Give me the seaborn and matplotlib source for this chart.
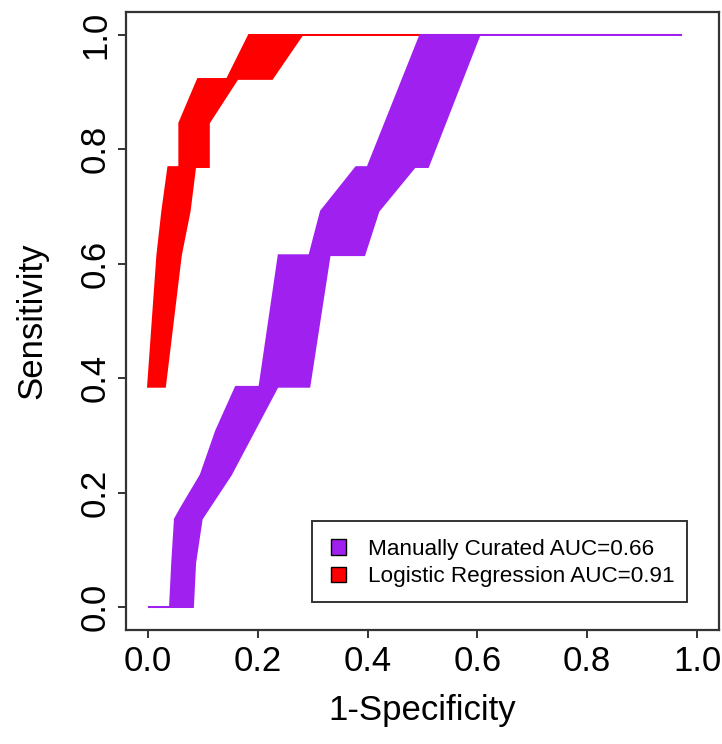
import matplotlib
matplotlib.use("Agg")
import matplotlib.pyplot as plt
from matplotlib.patches import Patch, Rectangle
import seaborn as sns
import pandas as pd

# ---- data: confidence bands of the ROC curves (1-specificity, sensitivity) ----
# Logistic Regression band: left (upper) boundary, bottom -> top
lr_left_fpr = [0.000, 0.017, 0.026, 0.037, 0.057, 0.057, 0.091, 0.144, 0.184]
lr_left_se = [0.385, 0.615, 0.692, 0.769, 0.769, 0.846, 0.923, 0.923, 1.000]
# Logistic Regression band: right (lower) boundary, bottom -> top
lr_right_fpr = [0.031, 0.060, 0.076, 0.086, 0.111, 0.111, 0.163, 0.226, 0.281, 0.972]
lr_right_se = [0.385, 0.615, 0.692, 0.769, 0.769, 0.846, 0.923, 0.923, 1.000, 1.000]

# Manually Curated band: left (upper) boundary, bottom -> top
mc_left_fpr = [0.000, 0.040, 0.044, 0.049, 0.060, 0.096, 0.124, 0.160, 0.203,
               0.238, 0.294, 0.315, 0.379, 0.400, 0.496]
mc_left_se = [0.000, 0.000, 0.077, 0.154, 0.173, 0.231, 0.308, 0.385, 0.385,
              0.615, 0.615, 0.692, 0.769, 0.769, 1.000]
# Manually Curated band: right (lower) boundary, bottom -> top
mc_right_fpr = [0.082, 0.086, 0.098, 0.151, 0.236, 0.294, 0.331, 0.394, 0.420,
                0.486, 0.510, 0.604, 0.972]
mc_right_se = [0.000, 0.077, 0.154, 0.231, 0.385, 0.385, 0.615, 0.615, 0.692,
               0.769, 0.769, 1.000, 1.000]

series_names = ["Manually Curated AUC=0.66", "Logistic Regression AUC=0.91"]
series_colors = ["#A020F0", "#FF0000"]
tick_values = [0.0, 0.2, 0.4, 0.6, 0.8, 1.0]
tick_labels = ["0.0", "0.2", "0.4", "0.6", "0.8", "1.0"]

# ---- style ----
sns.set_style("white")
plt.rcParams["font.family"] = ["Liberation Sans Narrow", "Liberation Sans", "DejaVu Sans"]
plt.rcParams["text.color"] = "black"
plt.rcParams["axes.labelcolor"] = "black"
plt.rcParams["xtick.color"] = "black"
plt.rcParams["ytick.color"] = "black"

fig = plt.figure(figsize=(7.22, 7.44), dpi=100)
ax = fig.add_axes([126 / 722, 1 - 630 / 744, 593 / 722, 618 / 744])


def band(left_x, left_y, right_x, right_y):
    left = pd.DataFrame({"fpr": left_x, "se": left_y})
    right = pd.DataFrame({"fpr": right_x, "se": right_y}).iloc[::-1]
    return pd.concat([left, right], ignore_index=True)


lr = band(lr_left_fpr, lr_left_se, lr_right_fpr, lr_right_se)
mc = band(mc_left_fpr, mc_left_se, mc_right_fpr, mc_right_se)

ax.fill(lr["fpr"], lr["se"], facecolor=series_colors[1], edgecolor=series_colors[1],
        linewidth=1.3, zorder=2)
ax.fill(mc["fpr"], mc["se"], facecolor=series_colors[0], edgecolor=series_colors[0],
        linewidth=1.3, zorder=3)

ax.set_xlim(-0.04, 1.04)
ax.set_ylim(-0.04, 1.04)
ax.set_xticks(tick_values)
ax.set_xticklabels(tick_labels)
ax.set_yticks(tick_values)
ax.set_yticklabels(tick_labels, rotation=90, va="center")

for s in ax.spines.values():
    s.set_visible(True)
    s.set_color("#333333")
    s.set_linewidth(1.6)

ax.tick_params(axis="both", which="major", direction="out", length=6,
               width=1.4, color="#333333", labelsize=25, labelcolor="black",
               bottom=True, left=True, top=False, right=False)
ax.tick_params(axis="x", pad=5)
ax.tick_params(axis="y", pad=4)
ax.set_xlabel("1-Specificity", fontsize=25, labelpad=11)
ax.set_ylabel("Sensitivity", fontsize=25, labelpad=22)

# legend frame and entries
legend_font = ["Liberation Sans", "DejaVu Sans"]
ax.add_patch(Rectangle((0.314, 0.045), 0.632, 0.131, transform=ax.transAxes,
                       facecolor="white", edgecolor="#333333", linewidth=1.4,
                       zorder=5))
handles = [Patch(facecolor=c, edgecolor="black", linewidth=1.0) for c in series_colors]
leg = ax.legend(handles, series_names, loc="upper left",
                bbox_to_anchor=(0.345, 0.147), frameon=False,
                prop={"family": legend_font, "size": 16.2},
                handlelength=0.7, handleheight=0.7, handletextpad=0.95,
                labelspacing=0.28, borderpad=0, borderaxespad=0)
leg.set_zorder(6)

fig.savefig("out.png", dpi=100)
